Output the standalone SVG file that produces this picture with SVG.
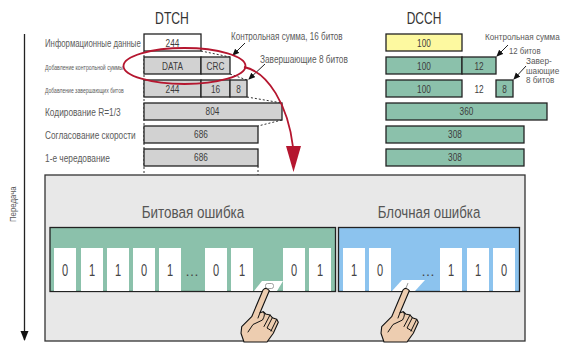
<svg xmlns="http://www.w3.org/2000/svg" xmlns:xlink="http://www.w3.org/1999/xlink" width="561" height="344" viewBox="0 0 561 344">
<style>
text{font-family:"Liberation Sans",Arial,sans-serif;fill:#3c3c3c}
.c{text-anchor:middle}
.v{font-size:11px;text-anchor:middle}
.l{font-size:11px;fill:#5a5a5a}
.n{font-size:9.500px;fill:#5a5a5a}
.s{font-size:8px;fill:#5a5a5a}
.t{font-size:17px;fill:#333;text-anchor:middle}
.e{font-size:17px;fill:#555;text-anchor:middle}
.d{font-size:17px;fill:#444;text-anchor:middle}
.g,.y,.w,.k{stroke:#222;stroke-width:1.3}
.g{fill:#d2d2d2}.y{fill:#fdf9a0}.w{fill:#fff}.k{fill:#8bc1ab}
.dot{fill:none;stroke:#333;stroke-width:1;stroke-dasharray:2 2}
.ar{fill:none;stroke:#222;stroke-width:1;marker-end:url(#a)}
.cell{fill:#fff}
.hs{fill:none;stroke:#111;stroke-width:1;stroke-linejoin:round;stroke-linecap:round}
</style>
<defs>
<marker id="a" markerWidth="8" markerHeight="8" refX="6" refY="3" orient="auto" markerUnits="userSpaceOnUse"><path d="M0,0L7,3L0,6Z" fill="#111"/></marker>
<marker id="ax" markerWidth="10" markerHeight="12" refX="9" refY="4" orient="auto" markerUnits="userSpaceOnUse"><path d="M0,0L10,4L0,8Z" fill="#111"/></marker>
<g id="hand">
<path d="M251.700,316.700L263,290Q266,286.500 269.300,290.700L260,312.700L263.300,311.700L265.700,314L270,315L272.300,317.700L276.700,319.300L278.300,322.300L273.300,333.300L267,342L244,342L241,333.300L241.700,326.700Z" fill="#edcdb0" stroke="#111" stroke-width="1.100" stroke-linejoin="round"/>
<path class="hs" d="M260,312.700L258,318M263.300,311.700Q266,314 262.500,320L253,324.500L248,332M270,315L264,326.500M272.300,317.700L267,328L272,331M276.700,319.300L271,331"/>
</g>
</defs>

<g id="axis">
<path d="M24.500,34V340" stroke="#222" stroke-width="1.300" fill="none" marker-end="url(#ax)"/>
<text class="s" transform="translate(16,222) rotate(-90) scale(.85,1)" textLength="42" lengthAdjust="spacingAndGlyphs" style="font-size:9px">Передача</text>
</g>

<g id="titles">
<text class="t" transform="translate(172,24) scale(.72,1)" textLength="47" lengthAdjust="spacingAndGlyphs">DTCH</text>
<text class="t" transform="translate(424,24) scale(.72,1)" textLength="48" lengthAdjust="spacingAndGlyphs">DCCH</text>
</g>

<g id="row-labels">
<text class="l" transform="translate(45,47) scale(.72,1)" textLength="133" lengthAdjust="spacingAndGlyphs">Информационные данные</text>
<text class="s" transform="translate(45,70) scale(.65,1)" textLength="120" lengthAdjust="spacingAndGlyphs">Добавление контрольной суммы</text>
<text class="s" transform="translate(45,93) scale(.65,1)" textLength="121" lengthAdjust="spacingAndGlyphs">Добавление завершающих битов</text>
<text class="l" transform="translate(45,116) scale(.72,1)" textLength="105" lengthAdjust="spacingAndGlyphs">Кодирование R=1/3</text>
<text class="l" transform="translate(45,139) scale(.72,1)" textLength="126" lengthAdjust="spacingAndGlyphs">Согласование скорости</text>
<text class="l" transform="translate(45,162) scale(.72,1)" textLength="90" lengthAdjust="spacingAndGlyphs">1-е чередование</text>
</g>

<g id="connectors">
<path class="dot" d="M144,51V175M258,166V175M201,51L230,57M230,74L247,80M247,97L282,103M282,120L258,126"/>
<path class="ar" d="M245,43L233,55"/>
<path class="ar" d="M265,64L249,79"/>
<path class="ar" d="M508,45L497,56"/>
<path class="ar" d="M526,66L514,79"/>
</g>

<g id="dtch-info"><rect class="w" x="144" y="34" width="57" height="17"/><text class="v" transform="translate(172.500,47) scale(.75,1)">244</text></g>
<g id="dtch-crc"><rect class="g" x="144" y="57" width="57" height="17"/><rect class="g" x="201" y="57" width="29" height="17"/><text class="v" transform="translate(172.500,70) scale(.75,1)">DATA</text><text class="v" transform="translate(215.500,70) scale(.75,1)">CRC</text></g>
<g id="dtch-tail"><rect class="g" x="144" y="80" width="57" height="17"/><rect class="g" x="201" y="80" width="29" height="17"/><rect class="g" x="230" y="80" width="17" height="17"/><text class="v" transform="translate(172.500,93) scale(.75,1)">244</text><text class="v" transform="translate(215.500,93) scale(.75,1)">16</text><text class="v" transform="translate(238.500,93) scale(.75,1)">8</text></g>
<g id="dtch-code"><rect class="g" x="144" y="103" width="138" height="17"/><text class="v" transform="translate(212.500,115) scale(.75,1)">804</text></g>
<g id="dtch-rate"><rect class="g" x="144" y="126" width="114" height="17"/><text class="v" transform="translate(201,138) scale(.75,1)">686</text></g>
<g id="dtch-inter"><rect class="g" x="144" y="149" width="114" height="17"/><text class="v" transform="translate(201,161) scale(.75,1)">686</text></g>

<g id="dcch-info"><rect class="y" x="386" y="34" width="76" height="17"/><text class="v" transform="translate(424,47) scale(.75,1)">100</text></g>
<g id="dcch-crc"><rect class="k" x="386" y="57" width="76" height="17"/><rect class="k" x="462" y="57" width="34" height="17"/><text class="v" transform="translate(424,70) scale(.75,1)">100</text><text class="v" transform="translate(479,70) scale(.75,1)">12</text></g>
<g id="dcch-tail"><rect class="k" x="386" y="80" width="76" height="17"/><rect class="k" x="496" y="80" width="17" height="17"/><text class="v" transform="translate(424,93) scale(.75,1)">100</text><text class="v" transform="translate(479,93) scale(.75,1)">12</text><text class="v" transform="translate(504.500,93) scale(.75,1)">8</text></g>
<g id="dcch-code"><rect class="k" x="386" y="103" width="161" height="17"/><text class="v" transform="translate(466.500,115) scale(.75,1)">360</text></g>
<g id="dcch-rate"><rect class="k" x="386" y="126" width="138" height="17"/><text class="v" transform="translate(455,138) scale(.75,1)">308</text></g>
<g id="dcch-inter"><rect class="k" x="386" y="149" width="138" height="17"/><text class="v" transform="translate(455,161) scale(.75,1)">308</text></g>

<g id="notes">
<text class="l" transform="translate(231,40) scale(.72,1)" textLength="155" lengthAdjust="spacingAndGlyphs">Контрольная сумма, 16 битов</text>
<text class="l" transform="translate(260,63) scale(.72,1)" textLength="122" lengthAdjust="spacingAndGlyphs">Завершающие 8 битов</text>
<text class="n" transform="translate(485,40) scale(.83,1)" textLength="90" lengthAdjust="spacingAndGlyphs">Контрольная сумма</text>
<text class="n" transform="translate(509,53.500) scale(.83,1)" textLength="38" lengthAdjust="spacingAndGlyphs">12 битов</text>
<text class="n" transform="translate(526,64) scale(.83,1)" textLength="31" lengthAdjust="spacingAndGlyphs">Завер-</text>
<text class="n" transform="translate(526,73.500) scale(.83,1)" textLength="40" lengthAdjust="spacingAndGlyphs">шающие</text>
<text class="n" transform="translate(526,83) scale(.83,1)" textLength="34" lengthAdjust="spacingAndGlyphs">8 битов</text>
</g>

<g id="error-panel">
<rect x="45" y="175" width="480" height="166" fill="#e8e8e8" stroke="#333" stroke-width="1.300"/>
<text class="e" transform="translate(193,218) scale(.82,1)" textLength="125" lengthAdjust="spacingAndGlyphs">Битовая ошибка</text>
<text class="e" transform="translate(429,218) scale(.82,1)" textLength="125" lengthAdjust="spacingAndGlyphs">Блочная ошибка</text>
</g>

<g id="bit-error">
<rect x="50" y="227.500" width="285.500" height="64" fill="#8bc1ab" stroke="#222" stroke-width="1.300"/>
<g class="cell">
<rect x="54" y="248" width="22" height="43"/><rect x="81" y="248" width="22" height="43"/><rect x="107" y="248" width="22" height="43"/><rect x="133" y="248" width="22" height="43"/><rect x="159" y="248" width="22" height="43"/><rect x="205" y="248" width="22" height="43"/><rect x="231" y="248" width="22" height="43"/><rect x="283" y="248" width="22" height="43"/><rect x="309" y="248" width="22" height="43"/>
<path d="M254,291L262,281H283L277,291Z"/>
</g>
<rect x="265.500" y="283.500" width="8" height="5" rx="2" fill="#fff" stroke="#888" stroke-width=".8"/>
<text class="d" transform="translate(65,276) scale(.65,1)">0</text><text class="d" transform="translate(92,276) scale(.65,1)">1</text><text class="d" transform="translate(118,276) scale(.65,1)">1</text><text class="d" transform="translate(144,276) scale(.65,1)">0</text><text class="d" transform="translate(170,276) scale(.65,1)">1</text><text class="d" x="192" y="276" style="font-size:14px">…</text><text class="d" transform="translate(216,276) scale(.65,1)">0</text><text class="d" transform="translate(242,276) scale(.65,1)">1</text><text class="d" transform="translate(294,276) scale(.65,1)">0</text><text class="d" transform="translate(320,276) scale(.65,1)">1</text>
</g>

<g id="block-error">
<rect x="338.500" y="227.500" width="181" height="64" fill="#8cc3ee" stroke="#222" stroke-width="1.300"/>
<g class="cell">
<rect x="343" y="248" width="22" height="43"/><rect x="369" y="248" width="22" height="43"/><rect x="440" y="248" width="22" height="43"/><rect x="467" y="248" width="22" height="43"/><rect x="493" y="248" width="22" height="43"/>
<path d="M392,291L402,280H425L415,291Z"/>
</g>
<path d="M408,283L406,288" stroke="#999" stroke-width="1" fill="none"/>
<text class="d" transform="translate(354,276) scale(.65,1)">1</text><text class="d" transform="translate(380,276) scale(.65,1)">0</text><text class="d" x="428" y="276" style="font-size:14px">…</text><text class="d" transform="translate(451,276) scale(.65,1)">1</text><text class="d" transform="translate(478,276) scale(.65,1)">1</text><text class="d" transform="translate(504,276) scale(.65,1)">0</text>
</g>

<g id="hands">
<use xlink:href="#hand" href="#hand"/>
<use xlink:href="#hand" href="#hand" transform="translate(140,0)"/>
</g>

<g id="highlight">
<ellipse cx="184.500" cy="66" rx="61" ry="18" fill="none" stroke="#b5162f" stroke-width="1.800"/>
<path d="M244,67C268,72 288,105 293,147" fill="none" stroke="#b5162f" stroke-width="1.800"/>
<path d="M286,146H301L293.500,172Z" fill="#b5162f"/>
</g>
</svg>
